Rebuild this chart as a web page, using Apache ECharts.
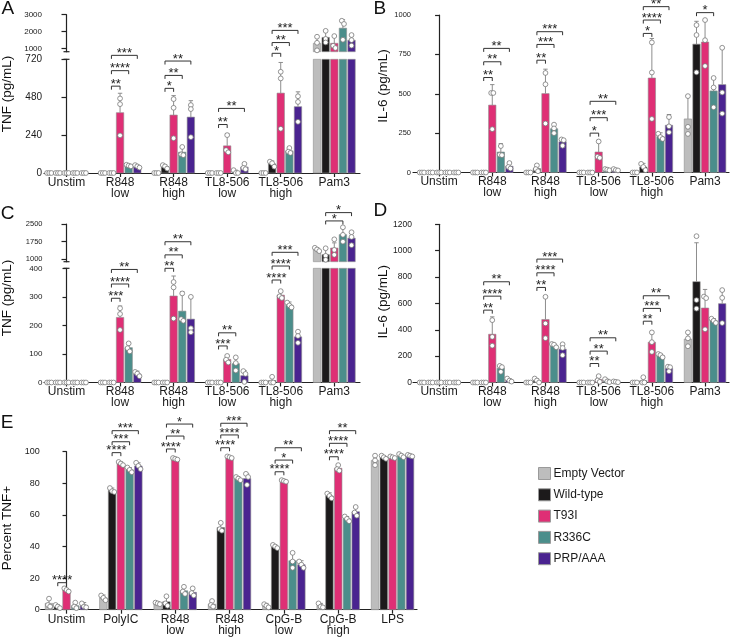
<!DOCTYPE html>
<html><head><meta charset="utf-8">
<script src="https://cdn.jsdelivr.net/npm/echarts@6.0.0/dist/echarts.min.js"></script>
<style>html,body{margin:0;padding:0;background:#fff}#c{width:731px;height:637px}</style>
</head><body><div id="c"></div>
<script>
const FONT = '"Liberation Sans", Arial, Helvetica, sans-serif';
const groups = ['Empty Vector', 'Wild-type', 'T93I', 'R336C', 'PRP/AAA'];
const catsTop = ['Unstim', 'R848\nlow', 'R848\nhigh', 'TL8-506\nlow', 'TL8-506\nhigh', 'Pam3'];
const catsE = ['Unstim', 'PolyIC', 'R848\nlow', 'R848\nhigh', 'CpG-B\nlow', 'CpG-B\nhigh', 'LPS'];
const ticksAUpper = [1000, 2000, 3000];
const ticksCUpper = [1000, 1750, 2500];

// ---- Panel A: TNF (pg/mL) ----
const aMeans = [
  [0, 0, 0, 0, 0, 1300],
  [0, 0, 40, 0, 58, 1650],
  [0, 382, 367, 172, 506, 1300],
  [0, 47, 132, 6, 140, 2200],
  [0, 42, 354, 38, 420, 1480]
];
const aErrTop = [
  [0, 0, 0, 0, 0, 1690],
  [0, 0, 52, 0, 76, 2060],
  [0, 505, 490, 250, 700, 1720],
  [0, 54, 168, 18, 160, 2700],
  [0, 50, 458, 58, 514, 1800]
];
const aPoints = [
  [[0,0,0],[0,0,0],[0,0,0],[0,0,0],[0,0,0],[1690,1330,880]],
  [[0,0,0],[0,0,0],[50,42,28],[0,0,0],[72,62,40],[2040,1560,1350]],
  [[0,0,0],[472,436,238],[468,413,220],[240,145,131],[641,599,280],[1730,1150,1020]],
  [[0,0,0],[52,47,42],[165,118,113],[18,0,0],[158,135,127],[2640,2450,1510]],
  [[0,0,0],[50,42,34],[430,405,227],[58,32,24],[486,450,324],[1790,1490,1160]]
];
const aBrackets = [
  [1,1,2,550,'**'],[1,1,3,648,'****'],[1,1,4,745,'***'],
  [2,1,2,536,'*'],[2,1,3,618,'**'],[2,1,4,709,'**'],
  [3,1,2,307,'**'],[3,1,4,409,'**'],
  [4,1,2,758,'*'],[4,1,3,826,'**'],[4,1,4,903,'***']
];

// ---- Panel B: IL-6 (pg/mL) ----
const bMeans = [
  [0, 0, 0, 0, 0, 340],
  [0, 0, 25, 0, 35, 815],
  [0, 428, 501, 130, 600, 828],
  [0, 130, 278, 18, 228, 518],
  [0, 40, 195, 17, 300, 558]
];
const bErrTop = [
  [0, 0, 0, 0, 0, 490],
  [0, 0, 50, 0, 58, 960],
  [0, 558, 656, 204, 851, 965],
  [0, 183, 308, 25, 252, 600],
  [0, 65, 212, 25, 368, 790]
];
const bPoints = [
  [[0,0,0],[0,0,0],[0,0,0],[0,0,0],[0,0,0],[485,290,245]],
  [[0,0,0],[0,0,0],[45,22,8],[0,0,0],[55,35,15],[936,873,636]],
  [[0,0,0],[505,505,275],[632,560,311],[197,100,93],[826,635,340],[968,840,676]],
  [[0,0,0],[168,113,110],[304,280,250],[22,18,14],[246,225,213],[600,540,414]],
  [[0,0,0],[60,35,25],[210,205,170],[22,16,13],[352,293,255],[792,508,374]]
];
const bBrackets = [
  [1,1,2,603,'**'],[1,1,3,703,'**'],[1,1,4,788,'**'],
  [2,1,2,713,'**'],[2,1,3,813,'***'],[2,1,4,894,'***'],
  [3,1,2,250,'*'],[3,1,3,348,'***'],[3,1,4,452,'**'],
  [4,1,2,883,'*'],[4,1,3,968,'****'],[4,1,4,1053,'**'],
  [5,1,3,1015,'*']
];

// ---- Panel C: TNF (pg/mL) ----
const cMeans = [
  [0, 0, 0, 0, 0, 1420],
  [0, 0, 0, 0, 7, 1200],
  [0, 228, 303, 81, 306, 1480],
  [0, 122, 250, 66, 271, 2050],
  [0, 30, 222, 24, 160, 1900]
];
const cErrTop = [
  [0, 0, 0, 0, 0, 1500],
  [0, 0, 0, 0, 20, 1450],
  [0, 268, 373, 93, 320, 1700],
  [0, 140, 318, 88, 282, 2320],
  [0, 40, 300, 42, 178, 2120]
];
const cPoints = [
  [[0,0,0],[0,0,0],[0,0,0],[0,0,0],[0,0,0],[1490,1420,1350]],
  [[0,0,0],[0,0,0],[0,0,0],[0,0,0],[20,0,0],[1470,1150,980]],
  [[0,0,0],[260,240,184],[352,333,224],[93,80,70],[320,302,296],[1850,1400,1190]],
  [[0,0,0],[137,120,109],[312,222,216],[88,68,42],[280,270,263],[2360,2040,1750]],
  [[0,0,0],[37,31,22],[300,190,176],[40,30,2],[178,163,139],[2150,1950,1600]]
];
const cBrackets = [
  [1,1,2,295,'***'],[1,1,3,345,'****'],[1,1,4,396,'**'],
  [2,1,2,400,'**'],[2,1,3,447,'**'],[2,1,4,493,'**'],
  [3,1,2,128,'***'],[3,1,3,174,'**'],
  [4,1,2,359,'****'],[4,1,3,408,'****'],[4,1,4,456,'***']
];
const cBracketsUpper = [[5,1,3,2630,'*'],[5,1,4,2983,'*']];

// ---- Panel D: IL-6 (pg/mL) ----
const dMeans = [
  [0, 0, 0, 0, 0, 330],
  [0, 0, 15, 0, 13, 765],
  [0, 366, 478, 23, 306, 565],
  [0, 108, 282, 12, 205, 468],
  [0, 17, 253, 5, 107, 598]
];
const dErrTop = [
  [0, 0, 0, 0, 0, 380],
  [0, 0, 30, 0, 45, 1060],
  [0, 498, 650, 48, 382, 706],
  [0, 128, 295, 25, 215, 485],
  [0, 30, 290, 10, 122, 695]
];
const dPoints = [
  [[0,0,0],[0,0,0],[0,0,0],[0,0,0],[0,0,0],[380,335,275]],
  [[0,0,0],[0,0,0],[30,15,0],[0,0,0],[40,0,0],[1110,625,560]],
  [[0,0,0],[473,346,279],[650,448,336],[48,16,5],[380,306,232],[652,640,403]],
  [[0,0,0],[126,117,81],[292,287,267],[25,8,3],[216,208,191],[484,468,452]],
  [[0,0,0],[30,14,7],[290,262,207],[8,5,2],[120,116,85],[701,642,451]]
];
const dBrackets = [
  [1,1,2,549,'**'],[1,1,3,655,'****'],[1,1,4,764,'**'],
  [2,1,2,721,'**'],[2,1,3,832,'****'],[2,1,4,936,'***'],
  [3,1,2,144,'**'],[3,1,3,238,'**'],[3,1,4,339,'**'],
  [4,1,2,465,'**'],[4,1,3,562,'***'],[4,1,4,658,'**']
];

// ---- Panel E: Percent TNF+ ----
const eMeans = [
  [4, 7.5, 4, 3.5, 2.5, 2.5, 94.5],
  [2, 75.5, 5, 52, 40, 72, 96.5],
  [12.5, 92.5, 95.5, 96.5, 81.5, 89.5, 96.5],
  [2.5, 88.5, 12, 83, 31, 57.5, 97.5],
  [2.5, 91, 11, 83, 28.5, 62, 97.5]
];
const eErrTop = [
  [7, 9.3, 5, 5.5, 4, 4, 97.5],
  [3, 77, 8.5, 55, 41, 74, 97.5],
  [13.5, 93.5, 96, 97, 82, 91.5, 97],
  [4.5, 90, 14, 84, 36, 59, 98.5],
  [4.5, 93, 13.5, 86, 31, 65, 98]
];
const ePoints = [
  [[7,3,2],[9,7.5,6],[4.5,4,3.5],[5.5,3,2],[3.5,2.5,1.5],[4,2,1.5],[97.5,94.5,91.5]],
  [[3,2,1],[77,75,74.5],[8.5,4,2.5],[55,51,50],[41,40,39],[73.5,72,70.5],[97.5,96.5,95.5]],
  [[13.5,12.5,11.5],[93.5,92.5,91.5],[96,95.5,95],[97,96.5,96],[82,81.5,81],[91.5,89,88],[97,96.5,96]],
  [[4.5,2,1],[90,88.5,87],[14.5,11.5,10],[84,83,82],[36,30.5,26.5],[59,57.5,56],[98.5,97.5,96.5]],
  [[4,2,1.5],[93,91,89],[13.5,10.5,9],[86,84,79],[30.5,28.5,26.5],[65,61.5,59.5],[98,97.5,97]]
];
const eBrackets = [
  [0,1,2,17.1,'****'],
  [1,1,2,99.4,'****'],[1,1,3,106.3,'***'],[1,1,4,113.3,'***'],
  [2,1,2,101.7,'****'],[2,1,3,109.9,'**'],[2,1,4,117.5,'*'],
  [3,1,2,102.5,'****'],[3,1,3,110.6,'****'],[3,1,4,118,'***'],
  [4,1,2,87.3,'****'],[4,1,3,94.7,'*'],[4,1,4,102.5,'**'],
  [5,1,2,96.8,'****'],[5,1,3,105.3,'****'],[5,1,4,113.3,'**']
];

// ---- styling ----
const colors = ['#bdbdbd', '#1c1a1b', '#df2f75', '#4b8e8b', '#4a2390'];
const AXIS = '#222';
const PITCH = 0.161;

const grids = [
  { left: 44, top: 14.7, width: 316, height: 37 },      // 0 A upper
  { left: 44, top: 59.3, width: 316, height: 113.7 },   // 1 A lower
  { left: 413, top: 15, width: 316, height: 157.5 },    // 2 B
  { left: 44, top: 224, width: 316, height: 37.7 },     // 3 C upper
  { left: 44, top: 268.3, width: 316, height: 114.2 },  // 4 C lower
  { left: 413, top: 224.3, width: 316, height: 158.2 }, // 5 D
  { left: 40.7, top: 451.7, width: 376.3, height: 158 } // 6 E
];

function xAx(gi, cats, min, max, show) {
  const idx = cats.map((c, i) => i);
  return {
    type: 'value', gridIndex: gi, min: min, max: max, show: show,
    axisLine: { show: true, onZero: false, lineStyle: { color: AXIS, width: 1.2 } },
    axisTick: { show: true, customValues: idx, length: 4, lineStyle: { color: AXIS, width: 1.2 } },
    axisLabel: { customValues: idx, formatter: v => cats[Math.round(v)], fontSize: 12, lineHeight: 11,
      color: '#1a1a1a', margin: 4, fontFamily: FONT },
    splitLine: { show: false }
  };
}
// brk: 'bottom' = cap at the lower end (upper segment), 'top' = cap at the upper end (lower segment)
function yAx(gi, min, max, interval, custom, fs, tl, mg, brk) {
  const a = {
    type: 'value', gridIndex: gi, min: min, max: max,
    axisLine: { show: true, lineStyle: { color: AXIS, width: 1.2 } },
    axisTick: { show: true, length: tl, lineStyle: { color: AXIS, width: 1.2 } },
    axisLabel: { fontSize: fs, color: '#1a1a1a', margin: mg, fontFamily: FONT, formatter: v => String(v) },
    splitLine: { show: false }
  };
  if (brk === 'bottom') { a.axisLine.symbol = ['rect', 'none']; a.axisLine.symbolSize = [6, 1.2]; }
  if (brk === 'top') { a.axisLine.symbol = ['none', 'rect']; a.axisLine.symbolSize = [6, 1.2]; }
  if (custom) { a.axisTick.customValues = custom; a.axisLabel.customValues = custom; }
  else a.interval = interval;
  return a;
}

function barRender(s, yMin, yMax, upper) {
  return function (params, api) {
    const ci = api.value(0), mean = api.value(1), err = api.value(2);
    const band = api.size([1, 0])[0];
    const pitch = band * PITCH, w = pitch - 1.2;
    const base = api.coord([ci, yMin]);
    const xc = base[0] + (s - 2) * pitch;
    const yB = base[1];
    const ch = [];
    if (mean > yMin) {
      const yT = api.coord([ci, Math.min(mean, yMax)])[1];
      ch.push({ type: 'rect', shape: { x: xc - w / 2, y: yT, width: w, height: yB - yT },
        style: { fill: colors[s], stroke: '#8f8f8f', lineWidth: 0.6 } });
      if (err > mean && mean < yMax) {
        const yE = api.coord([ci, Math.min(err, yMax)])[1];
        ch.push({ type: 'line', shape: { x1: xc, y1: yT, x2: xc, y2: yE }, style: { stroke: '#8d8d8d', lineWidth: 1 } });
        ch.push({ type: 'line', shape: { x1: xc - 2.2, y1: yE, x2: xc + 2.2, y2: yE }, style: { stroke: '#8d8d8d', lineWidth: 1 } });
      }
    }
    const ps = [];
    for (let k = 3; k < 6; k++) {
      const v = api.value(k);
      const ok = upper ? (v > yMin && v <= yMax) : (v >= yMin && v <= yMax);
      if (ok) ps.push(api.coord([ci, v])[1]);
    }
    ps.sort((a, b) => a - b);
    let i = 0;
    while (i < ps.length) {
      let j = i;
      while (j + 1 < ps.length && ps[j + 1] - ps[j] < 3.5) j++;
      const n = j - i + 1;
      for (let k = 0; k < n; k++) {
        ch.push({ type: 'circle', shape: { cx: xc + (k - (n - 1) / 2) * 2.2, cy: ps[i + k], r: 2.4 },
          style: { fill: '#fff', stroke: '#7a7a7a', lineWidth: 0.8 } });
      }
      i = j + 1;
    }
    return { type: 'group', children: ch };
  };
}

function brRender(list) {
  return function (params, api) {
    const b = list[params.dataIndex];
    const band = api.size([1, 0])[0], pitch = band * PITCH;
    const c = api.coord([b[0], b[3]]);
    const x1 = c[0] + (b[1] - 2) * pitch, x2 = c[0] + (b[2] - 2) * pitch, y = c[1];
    return { type: 'group', children: [
      { type: 'polyline', shape: { points: [[x1, y + 3.5], [x1, y], [x2, y], [x2, y + 3.5]] },
        style: { stroke: '#333', lineWidth: 1, fill: null } },
      { type: 'text', style: { text: b[4], x: (x1 + x2) / 2, y: y - 2, align: 'center', verticalAlign: 'middle',
        fontSize: 13, fontFamily: FONT, fill: '#222' } }
    ] };
  };
}

const series = [];
function addBars(gi, means, errs, pts, yMin, yMax, upper) {
  for (let s = 0; s < 5; s++) {
    const rows = means[s].map((m, i) => [i, m, errs[s][i]].concat(pts[s][i]));
    series.push({ type: 'custom', name: groups[s], xAxisIndex: gi, yAxisIndex: gi, clip: false,
      itemStyle: { color: colors[s], borderColor: '#9a9a9a' },
      encode: { x: 0, y: 1 }, data: rows, renderItem: barRender(s, yMin, yMax, upper), z: 2 });
  }
}
function addBrackets(gi, list) {
  series.push({ type: 'custom', xAxisIndex: gi, yAxisIndex: gi, clip: false, z: 3,
    encode: { x: 0, y: 1 }, data: list.map(b => [b[0], b[3]]), renderItem: brRender(list) });
}

addBars(0, aMeans, aErrTop, aPoints, 800, 3000, true);
addBars(1, aMeans, aErrTop, aPoints, 0, 720, false);
addBrackets(1, aBrackets);
addBars(2, bMeans, bErrTop, bPoints, 0, 1000, false);
addBrackets(2, bBrackets);
addBars(3, cMeans, cErrTop, cPoints, 900, 2500, true);
addBrackets(3, cBracketsUpper);
addBars(4, cMeans, cErrTop, cPoints, 0, 400, false);
addBrackets(4, cBrackets);
addBars(5, dMeans, dErrTop, dPoints, 0, 1200, false);
addBrackets(5, dBrackets);
addBars(6, eMeans, eErrTop, ePoints, 0, 100, false);
addBrackets(6, eBrackets);

function txt(x, y, text, size, rot) {
  return { type: 'text', x: x, y: y, rotation: rot || 0,
    style: { text: text, fontSize: size, fontFamily: FONT, fill: '#111',
      align: rot ? 'center' : 'left', verticalAlign: 'middle' } };
}

const option = {
  animation: false,
  textStyle: { fontFamily: FONT },
  grid: grids.map(g => Object.assign({ containLabel: false, outerBoundsMode: 'none' }, g)),
  xAxis: [
    xAx(0, catsTop, -0.42, 5.48, false),
    xAx(1, catsTop, -0.42, 5.48, true),
    xAx(2, catsTop, -0.49, 5.45, true),
    xAx(3, catsTop, -0.42, 5.48, false),
    xAx(4, catsTop, -0.42, 5.48, true),
    xAx(5, catsTop, -0.49, 5.45, true),
    xAx(6, catsE, -0.475, 6.45, true)
  ],
  yAxis: [
    yAx(0, 800, 3000, null, ticksAUpper, 8, 5, 2, 'bottom'),
    yAx(1, 0, 720, 240, null, 10, 5, 2, 'top'),
    yAx(2, 0, 1000, 250, null, 7.5, 4, 2),
    yAx(3, 900, 2500, null, ticksCUpper, 7.5, 5, 1.5, 'bottom'),
    yAx(4, 0, 400, 100, null, 8, 4, 1.5, 'top'),
    yAx(5, 0, 1200, 200, null, 8.5, 4, 1),
    yAx(6, 0, 100, 20, null, 9, 4, 1)
  ],
  legend: {
    orient: 'vertical', left: 538, top: 467, padding: 0, itemWidth: 12, itemHeight: 12, itemGap: 8.3,
    icon: 'rect', selectedMode: false, data: groups,
    itemStyle: { borderColor: '#9a9a9a', borderWidth: 1 },
    textStyle: { fontSize: 12, color: '#1a1a1a', fontFamily: FONT, padding: [0, 0, 0, -2] }
  },
  graphic: [
    txt(1.5, 8.6, 'A', 19), txt(373.5, 9.2, 'B', 19), txt(0.8, 213.7, 'C', 19),
    txt(373.5, 210.8, 'D', 19), txt(0.8, 422.5, 'E', 19),
    txt(7.5, 94, 'TNF (pg/mL)', 13.5, Math.PI / 2),
    txt(383, 86, 'IL-6 (pg/mL)', 13.5, Math.PI / 2),
    txt(7.5, 298, 'TNF (pg/mL)', 13.5, Math.PI / 2),
    txt(383, 301.7, 'IL-6 (pg/mL)', 13.5, Math.PI / 2),
    txt(7.5, 528, 'Percent TNF+', 13.5, Math.PI / 2)
  ],
  series: series
};

const chart = echarts.init(document.getElementById('c'), null, { renderer: 'canvas' });
chart.setOption(option);
</script></body></html>
